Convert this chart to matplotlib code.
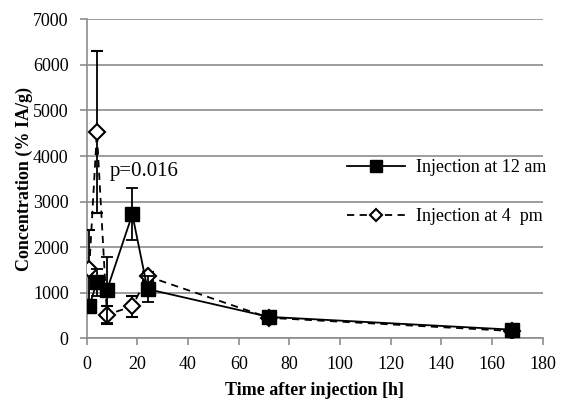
import matplotlib.pyplot as plt
from matplotlib.lines import Line2D

# --- data ---
time_h = [1, 4, 8, 18, 24, 72, 168]

am12_mean = [700, 1230, 1060, 2720, 1080, 470, 190]
am12_err = [0, 300, 730, 570, 290, 0, 0]

pm4_mean = [1530, 4520, 520, 700, 1360, 450, 160]
pm4_err = [840, 1780, 200, 230, 100, 0, 0]

series_labels = ['Injection at 12 am', 'Injection at 4  pm']

plt.rcParams['font.family'] = ['Liberation Serif', 'DejaVu Serif']

fig = plt.figure(figsize=(5.62, 4.08), dpi=100)
ax = fig.add_axes([0.1543, 0.1708, 0.9657 - 0.1543, 0.9527 - 0.1708])

grid_c = '#8c8c8c'

ax.errorbar(time_h, pm4_mean, yerr=pm4_err, color='black', linestyle='--', linewidth=1.3,
            marker='D', markersize=8, markerfacecolor='white', markeredgecolor='black',
            markeredgewidth=1.5, ecolor='black', elinewidth=1.3, capsize=4, capthick=1.3,
            dashes=(4, 3), zorder=3)
ax.errorbar(time_h, am12_mean, yerr=am12_err, color='black', linestyle='-', linewidth=1.3,
            marker='s', markersize=10.5, markerfacecolor='black', markeredgecolor='black',
            ecolor='black', elinewidth=1.3, capsize=4, capthick=1.3, zorder=4)

ax.text(9, 3650, 'p=0.016', fontsize=15, ha='left', va='center')

ax.set_xlim(0, 180)
ax.set_ylim(0, 7000)
ax.set_xticks(range(0, 181, 20))
ax.set_yticks(range(0, 7001, 1000))
ax.tick_params(axis='both', labelsize=13, color=grid_c, length=5, width=1.2, direction='out')
ax.tick_params(axis='y', pad=8)
ax.tick_params(axis='x', pad=8)

ax.yaxis.grid(True, color=grid_c, linewidth=1.2)
ax.set_axisbelow(True)
for side in ['top', 'right']:
    ax.spines[side].set_visible(False)
for side in ['left', 'bottom']:
    ax.spines[side].set_color(grid_c)
    ax.spines[side].set_linewidth(1.2)

ax.set_xlabel('Time after injection [h]', fontsize=13, fontweight='bold', labelpad=6)
ax.set_ylabel('Concentration (% IA/g)', fontsize=13, fontweight='bold')
ax.yaxis.set_label_coords(-0.118, 0.5)

# legend handles without error bars, as in the reference
handles = [
    Line2D([], [], color='black', linestyle='-', linewidth=1.3, marker='s', markersize=8,
           markerfacecolor='black'),
    Line2D([], [], color='black', linestyle='--', dashes=(4, 3), linewidth=1.3, marker='D',
           markersize=6, markerfacecolor='white', markeredgewidth=1.5),
]
ax.legend(handles, series_labels, loc='upper left', bbox_to_anchor=(0.555, 0.585),
          frameon=False, fontsize=13, handlelength=3.2, labelspacing=1.8,
          borderaxespad=0, handletextpad=0.6)

fig.savefig('out.png', dpi=100)
